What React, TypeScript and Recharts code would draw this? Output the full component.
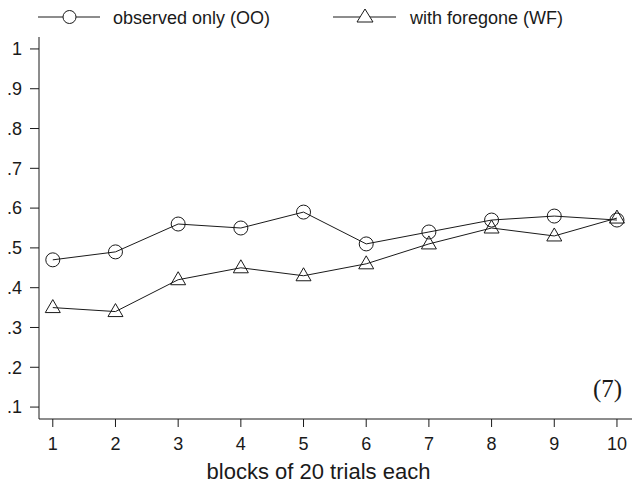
import { LineChart, Line, XAxis, YAxis } from 'recharts'

const BLOCKS = [1, 2, 3, 4, 5, 6, 7, 8, 9, 10]
const OBSERVED_ONLY = [0.47, 0.49, 0.56, 0.55, 0.59, 0.51, 0.54, 0.57, 0.58, 0.57]
const WITH_FOREGONE = [0.35, 0.34, 0.42, 0.45, 0.43, 0.46, 0.51, 0.55, 0.53, 0.575]
const Y_TICKS = [0.1, 0.2, 0.3, 0.4, 0.5, 0.6, 0.7, 0.8, 0.9, 1]

const FONT = '"Liberation Sans", Arial, Helvetica, sans-serif'
const SERIF = '"Liberation Serif", "Times New Roman", serif'
const INK = '#1a1a1a'

const data = BLOCKS.map((b, i) => ({ block: b, oo: OBSERVED_ONLY[i], wf: WITH_FOREGONE[i] }))

const CircleDot = (props: any) => {
  const { cx, cy, index } = props
  if (cx == null || cy == null) return null
  return <circle key={`c${index}`} cx={cx} cy={cy} r={7} fill="none" stroke={INK} strokeWidth={1} />
}

const TriangleDot = (props: any) => {
  const { cx, cy, index } = props
  if (cx == null || cy == null) return null
  const pts = `${cx},${cy - 8} ${cx - 7.5},${cy + 5} ${cx + 7.5},${cy + 5}`
  return <polygon key={`t${index}`} points={pts} fill="none" stroke={INK} strokeWidth={1} />
}

const yFmt = (v: number) => (v >= 1 ? '1' : '.' + Math.round(v * 10))

export default function App() {
  return (
    <div style={{ position: 'absolute', left: 0, top: 0, width: 632, height: 484, background: '#fff' }}>
      <LineChart width={632} height={484} data={data} margin={{ top: 37, right: 0, left: 0, bottom: 0 }}>
        <XAxis
          dataKey="block"
          type="number"
          domain={[0.78, 10.24]}
          ticks={BLOCKS}
          allowDataOverflow
          height={65}
          tickSize={8}
          tickMargin={10}
          stroke={INK}
          tick={{ fill: INK, fontSize: 18, fontFamily: FONT }}
          label={{ value: 'blocks of 20 trials each', position: 'insideBottom', offset: 5, dx: -17, fill: INK, fontSize: 22, fontFamily: FONT }}
        />
        <YAxis
          type="number"
          domain={[0.07, 1.03]}
          ticks={Y_TICKS}
          allowDataOverflow
          width={39}
          tickSize={9}
          tickMargin={8}
          stroke={INK}
          tickFormatter={yFmt}
          tick={{ fill: INK, fontSize: 18, fontFamily: FONT }}
        />
        <Line dataKey="oo" stroke={INK} strokeWidth={1} dot={CircleDot} activeDot={false} isAnimationActive={false} />
        <Line dataKey="wf" stroke={INK} strokeWidth={1} dot={TriangleDot} activeDot={false} isAnimationActive={false} />
      </LineChart>
      <svg width={632} height={484} style={{ position: 'absolute', left: 0, top: 0, pointerEvents: 'none' }}>
        <line x1={38} x2={100} y1={17} y2={17} stroke={INK} />
        <circle cx={69.5} cy={17} r={6.5} fill="#fff" stroke={INK} />
        <text x={113} y={24} fontSize={18} fontFamily={FONT} fill={INK}>observed only (OO)</text>
        <line x1={333} x2={396} y1={17} y2={17} stroke={INK} />
        <polygon points="365,9 357,22 373,22" fill="#fff" stroke={INK} />
        <text x={410} y={24} fontSize={18} fontFamily={FONT} fill={INK}>with foregone (WF)</text>
        <text x={593} y={397} fontSize={25} fontFamily={SERIF} fill={INK}>(7)</text>
      </svg>
    </div>
  )
}
